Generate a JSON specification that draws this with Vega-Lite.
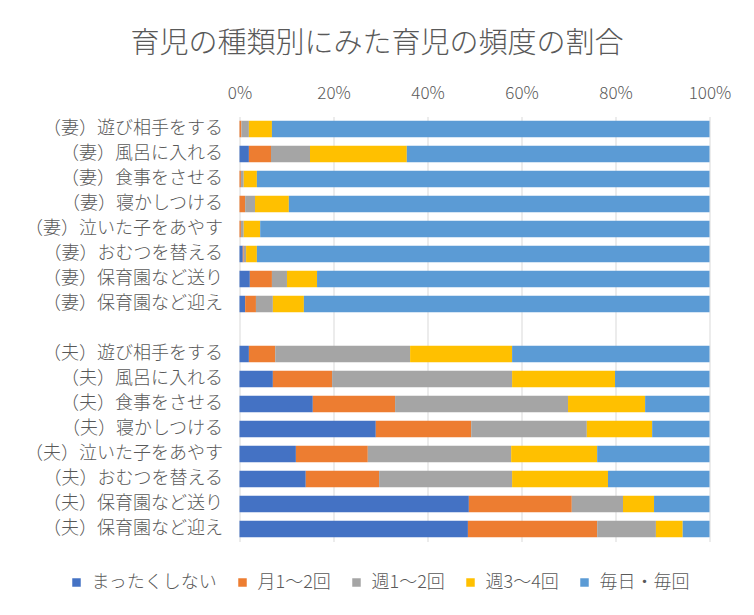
{
  "$schema": "https://vega.github.io/schema/vega-lite/v6.json",
  "width": 470,
  "height": 425,
  "autosize": {"type": "none"},
  "padding": {"left": 239.5, "top": 116.5, "right": 44.5, "bottom": 73.5},
  "background": "white",
  "title": {
    "text": "育児の種類別にみた育児の頻度の割合",
    "fontSize": 29,
    "font": "Noto Sans CJK JP",
    "fontWeight": 300,
    "color": "#595959",
    "anchor": "middle",
    "dx": -97.5,
    "offset": 26
  },
  "data": {
    "values": [
      {"task": "（妻）遊び相手をする", "まったくしない": 0, "月1～2回": 0.4, "週1～2回": 1.6, "週3～4回": 4.9, "毎日・毎回": 93.1},
      {"task": "（妻）風呂に入れる", "まったくしない": 2.0, "月1～2回": 4.7, "週1～2回": 8.3, "週3～4回": 20.6, "毎日・毎回": 64.4},
      {"task": "（妻）食事をさせる", "まったくしない": 0, "月1～2回": 0.3, "週1～2回": 0.6, "週3～4回": 2.8, "毎日・毎回": 96.3},
      {"task": "（妻）寝かしつける", "まったくしない": 0, "月1～2回": 1.2, "週1～2回": 2.1, "週3～4回": 7.2, "毎日・毎回": 89.5},
      {"task": "（妻）泣いた子をあやす", "まったくしない": 0, "月1～2回": 0.3, "週1～2回": 0.6, "週3～4回": 3.5, "毎日・毎回": 95.6},
      {"task": "（妻）おむつを替える", "まったくしない": 0.7, "月1～2回": 0.2, "週1～2回": 0.5, "週3～4回": 2.3, "毎日・毎回": 96.3},
      {"task": "（妻）保育園など送り", "まったくしない": 2.2, "月1～2回": 4.7, "週1～2回": 3.2, "週3～4回": 6.4, "毎日・毎回": 83.5},
      {"task": "（妻）保育園など迎え", "まったくしない": 1.2, "月1～2回": 2.3, "週1～2回": 3.6, "週3～4回": 6.6, "毎日・毎回": 86.3},
      {"task": "（夫）遊び相手をする", "まったくしない": 2.0, "月1～2回": 5.6, "週1～2回": 28.7, "週3～4回": 21.7, "毎日・毎回": 42.0},
      {"task": "（夫）風呂に入れる", "まったくしない": 7.1, "月1～2回": 12.6, "週1～2回": 38.3, "週3～4回": 21.9, "毎日・毎回": 20.1},
      {"task": "（夫）食事をさせる", "まったくしない": 15.6, "月1～2回": 17.5, "週1～2回": 36.8, "週3～4回": 16.4, "毎日・毎回": 13.7},
      {"task": "（夫）寝かしつける", "まったくしない": 29.0, "月1～2回": 20.3, "週1～2回": 24.6, "週3～4回": 13.9, "毎日・毎回": 12.2},
      {"task": "（夫）泣いた子をあやす", "まったくしない": 12.0, "月1～2回": 15.3, "週1～2回": 30.5, "週3～4回": 18.3, "毎日・毎回": 23.9},
      {"task": "（夫）おむつを替える", "まったくしない": 14.1, "月1～2回": 15.6, "週1～2回": 28.3, "週3～4回": 20.4, "毎日・毎回": 21.6},
      {"task": "（夫）保育園など送り", "まったくしない": 48.8, "月1～2回": 21.9, "週1～2回": 10.9, "週3～4回": 6.6, "毎日・毎回": 11.8},
      {"task": "（夫）保育園など迎え", "まったくしない": 48.6, "月1～2回": 27.5, "週1～2回": 12.5, "週3～4回": 5.7, "毎日・毎回": 5.7}
    ]
  },
  "transform": [
    {"fold": ["まったくしない", "月1～2回", "週1～2回", "週3～4回", "毎日・毎回"], "as": ["freq", "pct"]},
    {"calculate": "indexof(['まったくしない', '月1～2回', '週1～2回', '週3～4回', '毎日・毎回'], datum.freq)", "as": "stackOrder"}
  ],
  "mark": {"type": "bar", "strokeWidth": 0},
  "encoding": {
    "y": {
      "field": "task",
      "type": "nominal",
      "scale": {
        "domain": ["（妻）遊び相手をする", "（妻）風呂に入れる", "（妻）食事をさせる", "（妻）寝かしつける", "（妻）泣いた子をあやす", "（妻）おむつを替える", "（妻）保育園など送り", "（妻）保育園など迎え", " ", "（夫）遊び相手をする", "（夫）風呂に入れる", "（夫）食事をさせる", "（夫）寝かしつける", "（夫）泣いた子をあやす", "（夫）おむつを替える", "（夫）保育園など送り", "（夫）保育園など迎え"],
        "paddingInner": 0.34,
        "paddingOuter": 0.17
      },
      "axis": {
        "title": null,
        "domain": false,
        "ticks": false,
        "tickSize": 0,
        "grid": false,
        "labelFontSize": 18,
        "labelFont": "Noto Sans CJK JP",
        "labelFontWeight": 300,
        "labelColor": "#595959",
        "labelPadding": 17,
        "labelLimit": 0
      }
    },
    "x": {
      "field": "pct",
      "type": "quantitative",
      "stack": "normalize",
      "scale": {"domain": [0, 1], "nice": false},
      "axis": {
        "orient": "top",
        "title": null,
        "format": ".0%",
        "values": [0, 0.2, 0.4, 0.6, 0.8, 1],
        "domain": false,
        "ticks": false,
        "tickSize": 0,
        "grid": true,
        "gridColor": "#d9d9d9",
        "gridWidth": 1,
        "labelFontSize": 17,
        "labelFont": "Noto Sans CJK JP",
        "labelFontWeight": 300,
        "labelColor": "#595959",
        "labelPadding": 14,
        "labelFlush": false
      }
    },
    "order": {"field": "stackOrder", "type": "quantitative", "sort": "ascending"},
    "color": {
      "field": "freq",
      "type": "nominal",
      "sort": ["まったくしない", "月1～2回", "週1～2回", "週3～4回", "毎日・毎回"],
      "scale": {
        "domain": ["まったくしない", "月1～2回", "週1～2回", "週3～4回", "毎日・毎回"],
        "range": ["#4472C4", "#ED7D31", "#A5A5A5", "#FFC000", "#5B9BD5"]
      },
      "legend": {
        "title": null,
        "orient": "none",
        "direction": "horizontal",
        "legendX": -172,
        "legendY": 457,
        "symbolType": "square",
        "symbolSize": 72,
        "symbolStrokeWidth": 0,
        "labelFontSize": 18,
        "labelFont": "Noto Sans CJK JP",
        "labelFontWeight": 300,
        "labelColor": "#595959",
        "labelOffset": 6,
        "columnPadding": 16
      }
    }
  },
  "config": {
    "view": {"stroke": null}
  }
}
